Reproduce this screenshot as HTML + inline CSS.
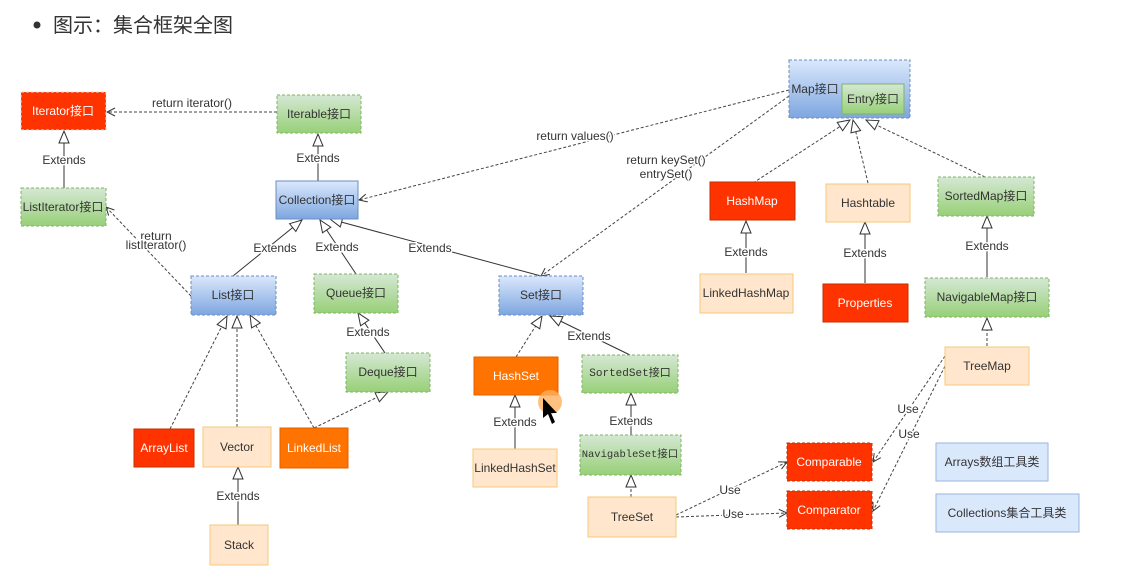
<!DOCTYPE html>
<html><head><meta charset="utf-8"><style>
html,body{margin:0;padding:0;background:#fff;}
svg{display:block;font-family:"Liberation Sans","Noto Sans CJK SC",sans-serif;}
.l{stroke:#333;stroke-width:1;fill:none}
.d{stroke:#444;stroke-width:1;fill:none;stroke-dasharray:3,2}
.t{font-size:12px;fill:#333;text-anchor:middle;paint-order:stroke;stroke:#fff;stroke-width:3px}
.n{font-size:12px;text-anchor:middle;dominant-baseline:central}
</style></head><body>
<svg width="1121" height="583" viewBox="0 0 1121 583" xmlns="http://www.w3.org/2000/svg">
<defs>
<marker id="tri" markerUnits="userSpaceOnUse" markerWidth="14" markerHeight="14" refX="13" refY="6" orient="auto"><path d="M1,1 L13,6 L1,11 Z" fill="#fff" stroke="#333"/></marker>
<marker id="op" markerUnits="userSpaceOnUse" markerWidth="10" markerHeight="10" refX="9" refY="5" orient="auto"><path d="M1,1 L9,5 L1,9" fill="none" stroke="#333"/></marker>
<linearGradient id="gb" x1="0" y1="0" x2="0" y2="1"><stop offset="0" stop-color="#dae8fc"/><stop offset="1" stop-color="#7ea6e0"/></linearGradient>
<linearGradient id="gg" x1="0" y1="0" x2="0" y2="1"><stop offset="0" stop-color="#d5e8d4"/><stop offset="1" stop-color="#97d077"/></linearGradient>
</defs>
<circle cx="37" cy="25" r="3.5" fill="#333"/>
<text x="53" y="32" font-size="20" fill="#333">图示：集合框架全图</text>

<!-- edges -->
<line class="d" x1="277" y1="112" x2="107" y2="112" marker-end="url(#op)"/>
<text class="t" x="192" y="107">return   iterator()</text>
<line class="l" x1="64" y1="188" x2="64" y2="131" marker-end="url(#tri)"/>
<text class="t" x="64" y="164">Extends</text>
<line class="l" x1="318" y1="181" x2="318" y2="134" marker-end="url(#tri)"/>
<text class="t" x="318" y="162">Extends</text>
<line class="l" x1="233" y1="276" x2="302" y2="220" marker-end="url(#tri)"/>
<text class="t" x="275" y="252">Extends</text>
<line class="l" x1="356" y1="274" x2="320" y2="220" marker-end="url(#tri)"/>
<text class="t" x="337" y="251">Extends</text>
<line class="l" x1="541" y1="276" x2="330" y2="219" marker-end="url(#tri)"/>
<text class="t" x="430" y="252">Extends</text>
<line class="d" x1="191" y1="296" x2="106" y2="207" marker-end="url(#op)"/>
<text class="t" x="156" y="240">return</text>
<text class="t" x="156" y="249">listIterator()</text>
<line class="d" x1="789" y1="90" x2="359" y2="200" marker-end="url(#op)"/>
<text class="t" x="575" y="140">return  values()</text>
<line class="d" x1="789" y1="96" x2="541" y2="276" marker-end="url(#op)"/>
<text class="t" x="666" y="164">return keySet()</text>
<text class="t" x="666" y="178">entrySet()</text>
<line class="d" x1="753" y1="183" x2="850" y2="120" marker-end="url(#tri)"/>
<line class="d" x1="868" y1="183" x2="853" y2="120" marker-end="url(#tri)"/>
<line class="d" x1="985" y1="177" x2="866" y2="120" marker-end="url(#tri)"/>
<line class="l" x1="746" y1="273" x2="746" y2="221" marker-end="url(#tri)"/>
<text class="t" x="746" y="256">Extends</text>
<line class="l" x1="865" y1="283" x2="865" y2="222" marker-end="url(#tri)"/>
<text class="t" x="865" y="257">Extends</text>
<line class="l" x1="987" y1="277" x2="987" y2="216" marker-end="url(#tri)"/>
<text class="t" x="987" y="250">Extends</text>
<line class="d" x1="987" y1="346" x2="987" y2="318" marker-end="url(#tri)"/>
<line class="d" x1="945" y1="356" x2="873" y2="462" marker-end="url(#op)"/>
<text class="t" x="908" y="413">Use</text>
<line class="d" x1="945" y1="366" x2="873" y2="511" marker-end="url(#op)"/>
<text class="t" x="909" y="438">Use</text>
<line class="d" x1="676" y1="515" x2="787" y2="462" marker-end="url(#op)"/>
<text class="t" x="730" y="494">Use</text>
<line class="d" x1="676" y1="517" x2="787" y2="513" marker-end="url(#op)"/>
<text class="t" x="733" y="518">Use</text>
<line class="d" x1="170" y1="429" x2="227" y2="316" marker-end="url(#tri)"/>
<line class="d" x1="237" y1="427" x2="237" y2="316" marker-end="url(#tri)"/>
<line class="d" x1="314" y1="428" x2="250" y2="315" marker-end="url(#tri)"/>
<line class="d" x1="314" y1="428" x2="388" y2="392" marker-end="url(#tri)"/>
<line class="l" x1="385" y1="353" x2="358" y2="313" marker-end="url(#tri)"/>
<text class="t" x="368" y="336">Extends</text>
<line class="l" x1="238" y1="525" x2="238" y2="467" marker-end="url(#tri)"/>
<text class="t" x="238" y="500">Extends</text>
<line class="d" x1="516" y1="357" x2="542" y2="316" marker-end="url(#tri)"/>
<line class="l" x1="630" y1="355" x2="550" y2="316" marker-end="url(#tri)"/>
<text class="t" x="589" y="340">Extends</text>
<line class="l" x1="515" y1="449" x2="515" y2="395" marker-end="url(#tri)"/>
<text class="t" x="515" y="426">Extends</text>
<line class="l" x1="631" y1="435" x2="631" y2="393" marker-end="url(#tri)"/>
<text class="t" x="631" y="425">Extends</text>
<line class="d" x1="631" y1="497" x2="631" y2="475" marker-end="url(#tri)"/>

<!-- nodes -->
<g stroke-dasharray="3,2">
<rect x="21" y="92" width="85" height="38" fill="#ff3300" stroke="#e0e0e0"/>
<rect x="277" y="95" width="84" height="38" fill="url(#gg)" stroke="#82b366"/>
<rect x="21" y="188" width="85" height="38" fill="url(#gg)" stroke="#82b366"/>
<rect x="191" y="276" width="85" height="39" fill="url(#gb)" stroke="#6c8ebf"/>
<rect x="314" y="274" width="84" height="39" fill="url(#gg)" stroke="#82b366"/>
<rect x="346" y="353" width="84" height="39" fill="url(#gg)" stroke="#82b366"/>
<rect x="499" y="276" width="84" height="39" fill="url(#gb)" stroke="#6c8ebf"/>
<rect x="582" y="355" width="96" height="38" fill="url(#gg)" stroke="#82b366"/>
<rect x="580" y="435" width="101" height="40" fill="url(#gg)" stroke="#82b366"/>
<rect x="789" y="60" width="121" height="58" fill="url(#gb)" stroke="#6c8ebf"/>
<rect x="938" y="177" width="96" height="39" fill="url(#gg)" stroke="#82b366"/>
<rect x="925" y="278" width="124" height="39" fill="url(#gg)" stroke="#82b366"/>
<rect x="787" y="443" width="85" height="38" fill="#ff3300" stroke="#c03000"/>
<rect x="787" y="491" width="85" height="38" fill="#ff3300" stroke="#c03000"/>
</g>
<rect x="276" y="181" width="82" height="38" fill="url(#gb)" stroke="#6c8ebf"/>
<rect x="842" y="84" width="62" height="30" fill="url(#gg)" stroke="#82b366"/>
<rect x="474" y="357" width="84" height="38" fill="#ff7300" stroke="#e06000"/>
<rect x="473" y="449" width="84" height="38" fill="#ffe6cc" stroke="#f5c87a"/>
<rect x="588" y="497" width="88" height="40" fill="#ffe6cc" stroke="#f5c87a"/>
<rect x="134" y="429" width="60" height="38" fill="#ff3300" stroke="#c03000"/>
<rect x="203" y="427" width="68" height="40" fill="#ffe6cc" stroke="#f5c87a"/>
<rect x="280" y="428" width="68" height="40" fill="#ff7300" stroke="#e06000"/>
<rect x="210" y="525" width="58" height="40" fill="#ffe6cc" stroke="#f5c87a"/>
<rect x="710" y="182" width="85" height="38" fill="#ff3300" stroke="#c03000"/>
<rect x="826" y="184" width="84" height="38" fill="#ffe6cc" stroke="#f5c87a"/>
<rect x="700" y="274" width="93" height="39" fill="#ffe6cc" stroke="#f5c87a"/>
<rect x="823" y="284" width="85" height="38" fill="#ff3300" stroke="#c03000"/>
<rect x="945" y="347" width="84" height="38" fill="#ffe6cc" stroke="#f5c87a"/>
<rect x="936" y="443" width="112" height="38" fill="#dae8fc" stroke="#9ab6e0"/>
<rect x="936" y="494" width="143" height="38" fill="#dae8fc" stroke="#9ab6e0"/>
<circle cx="550" cy="402" r="12" fill="#ffb060" opacity="0.8"/>
<path d="M543,398 L543,418 L548,414 L552,424 L555,422 L551,413 L557,413 Z" fill="#000"/>

<g class="n" fill="#333">
<text x="63" y="111" fill="#fff">Iterator接口</text>
<text x="319" y="114">Iterable接口</text>
<text x="63" y="207">ListIterator接口</text>
<text x="317" y="200">Collection接口</text>
<text x="233" y="295">List接口</text>
<text x="356" y="293">Queue接口</text>
<text x="388" y="372">Deque接口</text>
<text x="541" y="295">Set接口</text>
<text x="630" y="374" font-family="Liberation Mono,monospace" font-size="11">SortedSet接口</text>
<text x="630" y="455" font-family="Liberation Mono,monospace" font-size="10.5">NavigableSet接口</text>
<text x="815" y="89">Map接口</text>
<text x="873" y="99">Entry接口</text>
<text x="986" y="196">SortedMap接口</text>
<text x="987" y="297">NavigableMap接口</text>
<text x="829" y="462" fill="#fff">Comparable</text>
<text x="829" y="510" fill="#fff">Comparator</text>
<text x="516" y="376" fill="#fff">HashSet</text>
<text x="515" y="468">LinkedHashSet</text>
<text x="632" y="517">TreeSet</text>
<text x="164" y="448" fill="#fff">ArrayList</text>
<text x="237" y="447">Vector</text>
<text x="314" y="448" fill="#fff">LinkedList</text>
<text x="239" y="545">Stack</text>
<text x="752" y="201" fill="#fff">HashMap</text>
<text x="868" y="203">Hashtable</text>
<text x="746" y="293">LinkedHashMap</text>
<text x="865" y="303" fill="#fff">Properties</text>
<text x="987" y="366">TreeMap</text>
<text x="992" y="462">Arrays数组工具类</text>
<text x="1007" y="513">Collections集合工具类</text>
</g>
</svg>
</body></html>
